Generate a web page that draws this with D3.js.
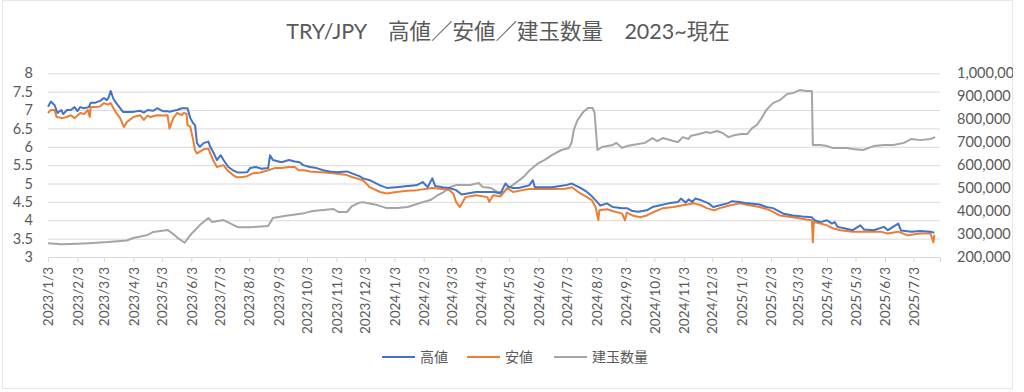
<!DOCTYPE html>
<html>
<head>
<meta charset="utf-8">
<script src="https://cdn.jsdelivr.net/npm/d3@7"></script>
<style>
  body { margin: 0; background: #fff; }
  text { font-family: Lato, "Noto Sans CJK JP", sans-serif; fill: #595959; }
</style>
</head>
<body>
<script>
// 高値 (high)
const highs = [
  ["2023-01-03",7.09],["2023-01-06",7.23],["2023-01-10",7.13],["2023-01-13",6.92],["2023-01-17",7.0],
  ["2023-01-19",6.89],["2023-01-23",7.0],["2023-01-27",7.0],["2023-01-31",7.08],["2023-02-03",6.97],
  ["2023-02-06",7.08],["2023-02-10",7.05],["2023-02-15",7.08],["2023-02-17",7.2],["2023-02-22",7.2],
  ["2023-02-27",7.25],["2023-03-03",7.33],["2023-03-06",7.27],["2023-03-08",7.35],["2023-03-10",7.52],
  ["2023-03-13",7.3],["2023-03-16",7.19],["2023-03-20",7.05],["2023-03-23",6.95],["2023-03-27",6.95],
  ["2023-04-03",6.95],["2023-04-10",6.98],["2023-04-14",6.93],["2023-04-18",7.0],["2023-04-24",6.98],
  ["2023-04-28",7.05],["2023-05-04",6.97],["2023-05-09",6.97],["2023-05-11",6.95],["2023-05-15",6.98],
  ["2023-05-19",7.0],["2023-05-24",7.05],["2023-05-26",7.05],["2023-05-30",7.05],["2023-06-02",6.78],
  ["2023-06-05",6.64],["2023-06-07",6.59],["2023-06-09",6.1],["2023-06-12",6.0],["2023-06-16",6.1],
  ["2023-06-21",6.14],["2023-06-23",6.0],["2023-06-26",5.86],["2023-06-30",5.64],["2023-07-04",5.77],
  ["2023-07-07",5.64],["2023-07-12",5.45],["2023-07-17",5.36],["2023-07-21",5.31],["2023-07-25",5.3],
  ["2023-08-01",5.31],["2023-08-04",5.42],["2023-08-10",5.45],["2023-08-16",5.4],["2023-08-23",5.42],
  ["2023-08-25",5.77],["2023-08-28",5.64],["2023-09-06",5.58],["2023-09-14",5.64],["2023-09-20",5.6],
  ["2023-09-25",5.58],["2023-09-29",5.5],["2023-10-06",5.45],["2023-10-13",5.42],["2023-10-20",5.36],
  ["2023-10-27",5.33],["2023-11-03",5.31],["2023-11-14",5.33],["2023-11-20",5.27],["2023-11-27",5.2],
  ["2023-12-01",5.14],["2023-12-08",5.09],["2023-12-19",4.95],["2023-12-26",4.88],["2024-01-05",4.9],
  ["2024-01-17",4.93],["2024-01-26",4.95],["2024-02-02",5.04],["2024-02-07",4.9],["2024-02-12",5.14],
  ["2024-02-15",4.93],["2024-02-23",4.9],["2024-03-01",4.88],["2024-03-08",4.82],["2024-03-14",4.7],
  ["2024-03-20",4.73],["2024-03-29",4.77],["2024-04-10",4.77],["2024-04-17",4.77],["2024-04-24",4.73],
  ["2024-04-29",5.0],["2024-05-02",4.92],["2024-05-07",4.88],["2024-05-13",4.88],["2024-05-24",4.95],
  ["2024-05-28",5.09],["2024-05-30",4.9],["2024-06-17",4.9],["2024-07-01",4.95],["2024-07-08",5.0],
  ["2024-07-17",4.88],["2024-07-24",4.77],["2024-07-30",4.63],["2024-08-05",4.46],["2024-08-07",4.4],
  ["2024-08-14",4.46],["2024-08-20",4.36],["2024-08-30",4.33],["2024-09-04",4.33],["2024-09-10",4.25],
  ["2024-09-16",4.23],["2024-09-25",4.27],["2024-10-01",4.36],["2024-10-09",4.41],["2024-10-18",4.46],
  ["2024-10-28",4.5],["2024-10-31",4.59],["2024-11-05",4.48],["2024-11-08",4.57],["2024-11-12",4.5],
  ["2024-11-15",4.59],["2024-11-21",4.55],["2024-11-29",4.46],["2024-12-04",4.36],["2024-12-11",4.41],
  ["2024-12-19",4.46],["2024-12-24",4.52],["2025-01-01",4.5],["2025-01-09",4.46],["2025-01-22",4.43],
  ["2025-01-29",4.36],["2025-02-05",4.33],["2025-02-16",4.18],["2025-02-26",4.13],["2025-03-08",4.1],
  ["2025-03-18",4.08],["2025-03-21",4.0],["2025-03-27",3.95],["2025-04-03",4.0],["2025-04-08",3.91],
  ["2025-04-11",3.95],["2025-04-14",3.82],["2025-04-21",3.78],["2025-04-30",3.73],["2025-05-08",3.86],
  ["2025-05-12",3.75],["2025-05-22",3.73],["2025-06-02",3.82],["2025-06-06",3.73],["2025-06-17",3.91],
  ["2025-06-20",3.72],["2025-07-01",3.69],["2025-07-10",3.71],["2025-07-21",3.69],["2025-07-25",3.66]
];

// 安値 (low)
const lows = [
  ["2023-01-03",6.92],["2023-01-06",7.0],["2023-01-10",7.0],["2023-01-12",6.81],["2023-01-18",6.78],
  ["2023-01-23",6.81],["2023-01-27",6.86],["2023-01-31",6.78],["2023-02-06",6.92],["2023-02-10",6.89],
  ["2023-02-14",7.0],["2023-02-16",6.81],["2023-02-17",7.08],["2023-02-22",7.08],["2023-02-27",7.1],
  ["2023-03-03",7.19],["2023-03-07",7.15],["2023-03-10",7.19],["2023-03-13",7.05],["2023-03-16",6.92],
  ["2023-03-20",6.78],["2023-03-24",6.54],["2023-03-27",6.67],["2023-04-03",6.81],["2023-04-10",6.86],
  ["2023-04-14",6.73],["2023-04-18",6.85],["2023-04-21",6.81],["2023-04-28",6.86],["2023-05-04",6.85],
  ["2023-05-09",6.86],["2023-05-11",6.5],["2023-05-15",6.78],["2023-05-19",6.92],["2023-05-24",6.86],
  ["2023-05-26",6.92],["2023-05-29",6.9],["2023-05-30",6.59],["2023-06-02",6.54],["2023-06-05",6.18],
  ["2023-06-07",5.9],["2023-06-09",5.82],["2023-06-12",5.87],["2023-06-16",5.93],["2023-06-21",5.95],
  ["2023-06-23",5.82],["2023-06-26",5.64],["2023-06-30",5.45],["2023-07-07",5.5],["2023-07-11",5.36],
  ["2023-07-17",5.23],["2023-07-21",5.17],["2023-07-25",5.17],["2023-08-01",5.2],["2023-08-07",5.28],
  ["2023-08-15",5.3],["2023-08-23",5.36],["2023-08-30",5.42],["2023-09-06",5.42],["2023-09-14",5.45],
  ["2023-09-20",5.45],["2023-09-24",5.36],["2023-09-30",5.36],["2023-10-06",5.33],["2023-10-18",5.31],
  ["2023-10-31",5.28],["2023-11-14",5.23],["2023-11-20",5.17],["2023-11-27",5.12],["2023-12-01",5.09],
  ["2023-12-08",4.9],["2023-12-19",4.77],["2023-12-26",4.73],["2024-01-05",4.77],["2024-01-17",4.8],
  ["2024-01-27",4.82],["2024-02-12",4.88],["2024-02-23",4.85],["2024-03-01",4.82],["2024-03-05",4.73],
  ["2024-03-08",4.5],["2024-03-12",4.36],["2024-03-18",4.63],["2024-03-29",4.68],["2024-04-10",4.63],
  ["2024-04-12",4.5],["2024-04-16",4.68],["2024-04-24",4.65],["2024-05-01",4.88],["2024-05-07",4.77],
  ["2024-05-17",4.82],["2024-05-24",4.85],["2024-06-17",4.85],["2024-07-01",4.86],["2024-07-08",4.9],
  ["2024-07-17",4.73],["2024-07-24",4.63],["2024-07-29",4.55],["2024-08-02",4.36],["2024-08-05",4.0],
  ["2024-08-06",4.27],["2024-08-14",4.3],["2024-08-20",4.25],["2024-08-30",4.18],["2024-09-02",4.0],
  ["2024-09-04",4.21],["2024-09-10",4.13],["2024-09-18",4.08],["2024-09-25",4.13],["2024-10-01",4.21],
  ["2024-10-12",4.33],["2024-10-23",4.36],["2024-11-02",4.41],["2024-11-14",4.46],["2024-11-21",4.41],
  ["2024-11-27",4.33],["2024-12-05",4.27],["2024-12-11",4.33],["2024-12-22",4.41],["2025-01-01",4.46],
  ["2025-01-11",4.41],["2025-01-22",4.36],["2025-02-02",4.27],["2025-02-12",4.13],["2025-02-26",4.08],
  ["2025-03-12",4.02],["2025-03-18",4.0],["2025-03-19",3.4],["2025-03-20",3.95],["2025-03-27",3.91],
  ["2025-04-03",3.86],["2025-04-09",3.78],["2025-04-17",3.73],["2025-04-30",3.69],["2025-05-16",3.69],
  ["2025-05-29",3.69],["2025-06-06",3.64],["2025-06-17",3.69],["2025-06-27",3.59],["2025-07-10",3.64],
  ["2025-07-21",3.64],["2025-07-24",3.4],["2025-07-25",3.6]
];

// 建玉数量 (open interest, right axis)
const openInterest = [
  ["2023-01-03",260000],["2023-01-17",256000],["2023-02-03",258000],["2023-02-15",260000],["2023-03-07",265000],
  ["2023-03-27",272000],["2023-04-03",283000],["2023-04-18",296000],["2023-04-24",309000],["2023-05-09",318000],
  ["2023-05-15",300000],["2023-05-20",282000],["2023-05-27",262000],["2023-06-02",296000],["2023-06-12",339000],
  ["2023-06-21",370000],["2023-06-25",352000],["2023-07-07",361000],["2023-07-22",330000],["2023-08-05",330000],
  ["2023-08-23",335000],["2023-08-28",370000],["2023-09-09",379000],["2023-09-30",391000],["2023-10-09",400000],
  ["2023-10-31",409000],["2023-11-05",396000],["2023-11-14",396000],["2023-11-19",420000],["2023-11-26",435000],
  ["2023-12-01",439000],["2023-12-05",435000],["2023-12-16",426000],["2023-12-26",413000],["2024-01-06",413000],
  ["2024-01-17",418000],["2024-01-30",435000],["2024-02-10",448000],["2024-02-18",470000],["2024-02-24",483000],
  ["2024-03-02",505000],["2024-03-09",514000],["2024-03-23",514000],["2024-04-01",522000],["2024-04-05",505000],
  ["2024-04-14",500000],["2024-04-21",483000],["2024-04-27",483000],["2024-05-02",500000],["2024-05-07",514000],
  ["2024-05-18",548000],["2024-05-25",579000],["2024-06-03",609000],["2024-06-09",622000],["2024-06-17",644000],
  ["2024-06-27",666000],["2024-07-05",675000],["2024-07-08",701000],["2024-07-10",753000],["2024-07-14",796000],
  ["2024-07-20",831000],["2024-07-25",849000],["2024-07-30",849000],["2024-08-01",827000],["2024-08-04",666000],
  ["2024-08-09",679000],["2024-08-20",688000],["2024-08-24",697000],["2024-08-30",675000],["2024-09-04",683000],
  ["2024-09-10",688000],["2024-09-23",697000],["2024-10-01",718000],["2024-10-06",705000],["2024-10-12",718000],
  ["2024-10-23",705000],["2024-10-28",701000],["2024-11-02",722000],["2024-11-08",714000],["2024-11-10",727000],
  ["2024-11-19",736000],["2024-11-27",744000],["2024-12-01",740000],["2024-12-08",749000],["2024-12-14",740000],
  ["2024-12-20",722000],["2024-12-27",731000],["2025-01-03",736000],["2025-01-09",736000],["2025-01-14",761000],
  ["2025-01-19",775000],["2025-01-24",805000],["2025-01-29",840000],["2025-02-05",870000],["2025-02-12",883000],
  ["2025-02-20",910000],["2025-02-26",914000],["2025-03-05",927000],["2025-03-12",923000],["2025-03-18",923000],
  ["2025-03-19",688000],["2025-03-27",688000],["2025-04-03",683000],["2025-04-09",675000],["2025-04-24",675000],
  ["2025-04-30",670000],["2025-05-11",666000],["2025-05-22",683000],["2025-06-02",688000],["2025-06-12",688000],
  ["2025-06-23",697000],["2025-07-01",714000],["2025-07-10",709000],["2025-07-21",714000],["2025-07-26",722000]
];

const leftTicks = [3, 3.5, 4, 4.5, 5, 5.5, 6, 6.5, 7, 7.5, 8];
const rightTicks = [200000, 300000, 400000, 500000, 600000, 700000, 800000, 900000, 1000000];
const monthTicks = [
  "2023/1/3","2023/2/3","2023/3/3","2023/4/3","2023/5/3","2023/6/3","2023/7/3","2023/8/3","2023/9/3",
  "2023/10/3","2023/11/3","2023/12/3","2024/1/3","2024/2/3","2024/3/3","2024/4/3","2024/5/3","2024/6/3",
  "2024/7/3","2024/8/3","2024/9/3","2024/10/3","2024/11/3","2024/12/3","2025/1/3","2025/2/3","2025/3/3",
  "2025/4/3","2025/5/3","2025/6/3","2025/7/3"
];
const seriesNames = ["高値", "安値", "建玉数量"];
const colors = ["#4472C4", "#ED7D31", "#A5A5A5"];

const W = 1024, H = 392;
const plot = {left: 48, right: 940, top: 73.3, bottom: 257};

const parse = d3.timeParse("%Y-%m-%d");
const parseTick = d3.timeParse("%Y/%m/%d");

const svg = d3.select("body").append("svg")
    .attr("width", W)
    .attr("height", H);

// the chart area ends just before the page edge, cutting the top right label
svg.append("clipPath").attr("id", "chartClip")
  .append("rect").attr("x", 0).attr("y", 0).attr("width", 1013).attr("height", H);

const chart = svg.append("g").attr("clip-path", "url(#chartClip)");

// chart border
chart.append("rect")
    .attr("x", 2.5).attr("y", 0.5).attr("width", 1010).attr("height", 388)
    .attr("fill", "none").attr("stroke", "#E6E6E6");

const x = d3.scaleTime()
    .domain([parse("2023-01-03"), parse("2025-07-31")])
    .range([plot.left, plot.right]);
const yL = d3.scaleLinear().domain([3, 8]).range([plot.bottom, plot.top]);
const yR = d3.scaleLinear().domain([200000, 1000000]).range([plot.bottom, plot.top]);

// gridlines + left axis
const left = chart.append("g")
    .attr("transform", `translate(${plot.left},0)`)
    .call(d3.axisLeft(yL).tickValues(leftTicks).tickSize(-(plot.right - plot.left)).tickPadding(15).tickFormat(d => String(d)));
left.select(".domain").remove();
left.selectAll(".tick line").attr("stroke", "#D9D9D9");
left.selectAll(".tick text").attr("font-size", 14.5).attr("fill", "#595959");

// right axis
const right = chart.append("g")
    .attr("transform", `translate(${plot.right},0)`)
    .call(d3.axisRight(yR).tickValues(rightTicks).tickSize(0).tickPadding(17).tickFormat(d3.format(",")));
right.select(".domain").remove();
right.selectAll(".tick text").attr("font-size", 14.5).attr("fill", "#595959");

// bottom date axis
const bottom = chart.append("g")
    .attr("transform", `translate(0,${plot.bottom})`)
    .call(d3.axisBottom(x).tickValues(monthTicks.map(parseTick)).tickSize(5).tickFormat(d3.timeFormat("%Y/%-m/%-d")));
bottom.select(".domain").attr("stroke", "#D9D9D9");
bottom.selectAll(".tick line").attr("stroke", "#D9D9D9");
bottom.selectAll(".tick text")
    .attr("font-size", 13.5)
    .attr("fill", "#595959")
    .attr("text-anchor", "end")
    .attr("dy", "0.35em")
    .attr("transform", "translate(0,4) rotate(-90)")
    .attr("x", -6)
    .attr("y", 0);

// lines
const lineL = d3.line().x(d => x(parse(d[0]))).y(d => yL(d[1]));
const lineR = d3.line().x(d => x(parse(d[0]))).y(d => yR(d[1]));

chart.append("path").datum(openInterest)
    .attr("fill", "none").attr("stroke", colors[2]).attr("stroke-width", 2)
    .attr("stroke-linejoin", "round").attr("d", lineR);
chart.append("path").datum(lows)
    .attr("fill", "none").attr("stroke", colors[1]).attr("stroke-width", 2)
    .attr("stroke-linejoin", "round").attr("d", lineL);
chart.append("path").datum(highs)
    .attr("fill", "none").attr("stroke", colors[0]).attr("stroke-width", 2)
    .attr("stroke-linejoin", "round").attr("d", lineL);

// title
chart.append("text")
    .attr("x", 508).attr("y", 39)
    .attr("text-anchor", "middle")
    .attr("font-size", 21.5)
    .attr("fill", "#595959")
    .text("TRY/JPY　高値／安値／建玉数量　2023~現在");

// legend
const legendX = [382, 467, 554];
const legend = chart.append("g");
seriesNames.forEach((name, i) => {
    legend.append("line")
        .attr("x1", legendX[i]).attr("x2", legendX[i] + 33)
        .attr("y1", 357).attr("y2", 357)
        .attr("stroke", colors[i]).attr("stroke-width", 2);
    legend.append("text")
        .attr("x", legendX[i] + 38).attr("y", 357)
        .attr("dy", "0.35em")
        .attr("font-size", 14)
        .attr("fill", "#595959")
        .text(name);
});
</script>
</body>
</html>
